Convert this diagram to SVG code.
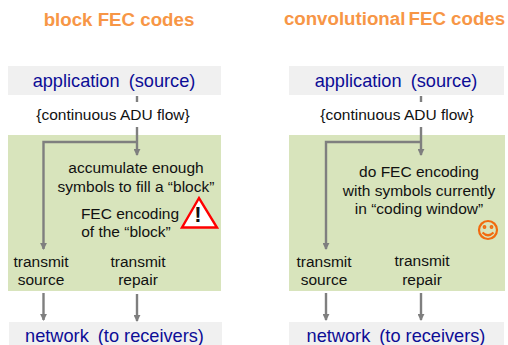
<svg xmlns="http://www.w3.org/2000/svg" width="508" height="345" viewBox="0 0 508 345">
<defs>
<marker id="ah" viewBox="0 0 8 8" refX="7" refY="4" markerWidth="7" markerHeight="7" markerUnits="userSpaceOnUse" orient="auto"><path d="M0 0L8 4L0 8Z" fill="#7f7f7f"/></marker>
</defs>
<style>
text{font-family:"Liberation Sans",Arial,sans-serif;text-anchor:middle}
.title{font-size:18.700px;font-weight:bold;fill:#f79646}
.blue{font-size:18.200px;fill:#0d0d96}
.t{font-size:15.500px;fill:#111}
.band{fill:#f0f0f0}
.green{fill:#d8e4bc}
.c{fill:none;stroke:#7f7f7f;stroke-width:2.400}
.c2{fill:none;stroke:#7f7f7f;stroke-width:2.400;marker-end:url(#ah)}
</style>
<rect width="508" height="345" fill="#fff"/>
<g id="title-block"><text class="title" x="119" y="26">block FEC codes</text></g>
<g id="title-conv"><text class="title" x="394.500" y="25">convolutional<tspan dx="-2"> FEC codes</tspan></text></g>
<g id="app-left"><rect class="band" x="8" y="66" width="213" height="29"/><text class="blue" x="114" y="87" word-spacing="4">application (source)</text></g>
<g id="app-right"><rect class="band" x="289" y="66" width="215" height="29"/><text class="blue" x="396" y="87" word-spacing="4">application (source)</text></g>
<g id="flow-left"><text class="t" x="113" y="120">{continuous ADU flow}</text></g>
<g id="flow-right"><text class="t" x="397" y="120">{continuous ADU flow}</text></g>
<g id="encoder-left"><rect class="green" x="8" y="135" width="213" height="156"/>
<text class="t" x="136" y="173">accumulate enough</text>
<text class="t" x="136" y="192">symbols to fill a “block”</text>
<text class="t" x="130" y="219">FEC encoding</text>
<text class="t" x="126" y="237">of the “block”</text>
<text class="t" x="41" y="267">transmit</text><text class="t" x="41" y="285">source</text>
<text class="t" x="138" y="267">transmit</text><text class="t" x="138" y="285">repair</text></g>
<g id="encoder-right"><rect class="green" x="289" y="135" width="216" height="156"/>
<text class="t" x="419" y="177">do FEC encoding</text>
<text class="t" x="419" y="196">with symbols currently</text>
<text class="t" x="419" y="214">in “coding window”</text>
<text class="t" x="324" y="267">transmit</text><text class="t" x="324" y="285">source</text>
<text class="t" x="422" y="266">transmit</text><text class="t" x="422" y="285">repair</text></g>
<g id="warning"><path d="M199 198L182 227.500H217Z" fill="#fff" stroke="#f00" stroke-width="2.400"/><text x="198" y="222" style="font-size:22px;font-weight:bold;fill:#111">!</text></g>
<g id="smiley" fill="none" stroke="#f26a0e" stroke-width="2.200"><circle cx="488" cy="230" r="9"/><circle cx="484.500" cy="227" r="0.800"/><circle cx="491.500" cy="227" r="0.800"/><path d="M482.500 232.500Q488 238 493.500 232.500"/></g>
<g id="net-left"><rect class="band" x="9" y="322" width="213" height="23"/><text class="blue" x="114.500" y="341.500">network<tspan dx="4"> (to receivers)</tspan></text></g>
<g id="net-right"><rect class="band" x="289" y="322" width="215" height="23"/><text class="blue" x="396" y="341.500">network<tspan dx="4"> (to receivers)</tspan></text></g>
<g id="connectors">
<path class="c" d="M137 96V102"/><path class="c2" d="M137 127V155"/><path class="c2" d="M137 142H43.500V249"/>
<path class="c" d="M421 96V102"/><path class="c2" d="M421 127V155"/><path class="c2" d="M421 142H326V249"/>
<path class="c2" d="M43.500 293V320"/><path class="c2" d="M137 294V321"/>
<path class="c2" d="M326 293V320"/><path class="c2" d="M421 293V320"/>
</g>
</svg>
